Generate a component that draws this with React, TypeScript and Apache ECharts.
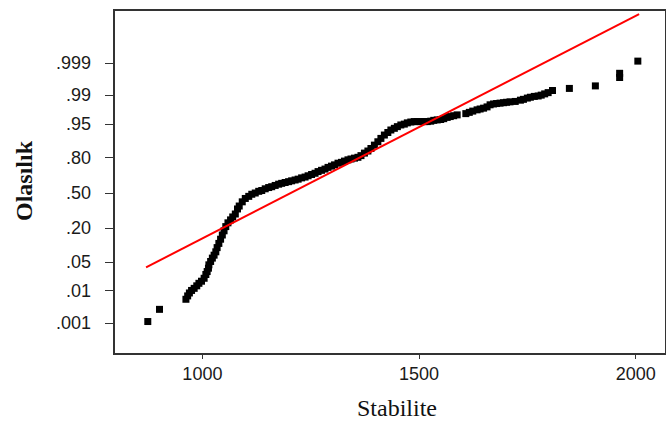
import React, { useEffect, useRef } from "react";
import * as echarts from "echarts";

// Stabilite values (x) and their normal scores (probability-scale position)
const stabilite = [
  874, 901, 962, 966, 970, 975, 981, 987, 992, 998, 1004, 1008, 1011, 1014, 1015, 1019, 1023, 1027, 1031, 1034,
  1038, 1042, 1046, 1050, 1054, 1059, 1065, 1070, 1076, 1081, 1085, 1092, 1099, 1107, 1114, 1122, 1130, 1137, 1145, 1153,
  1160, 1168, 1176, 1183, 1191, 1199, 1206, 1214, 1221, 1229, 1237, 1244, 1252, 1260, 1267, 1275, 1283, 1290, 1298, 1305,
  1313, 1321, 1328, 1336, 1343, 1351, 1359, 1366, 1374, 1382, 1389, 1397, 1405, 1412, 1420, 1428, 1435, 1443, 1450, 1458,
  1466, 1473, 1481, 1489, 1496, 1504, 1512, 1519, 1527, 1534, 1542, 1550, 1557, 1565, 1572, 1580, 1588, 1608, 1616, 1624,
  1634, 1641, 1649, 1657, 1664, 1672, 1679, 1687, 1695, 1702, 1710, 1722, 1734, 1741, 1750, 1757, 1766, 1775, 1782, 1790,
  1798, 1808, 1847, 1907, 1963, 1963, 2005,
];
const normalScore = [
  -3.06, -2.77, -2.53, -2.45, -2.38, -2.32, -2.27, -2.21, -2.15, -2.1, -2.03, -1.94, -1.87, -1.79, -1.71, -1.63, -1.55, -1.48, -1.4, -1.3,
  -1.2, -1.1, -1.0, -0.9, -0.8, -0.71, -0.64, -0.57, -0.5, -0.38, -0.31, -0.21, -0.13, -0.08, -0.03, 0.0, 0.04, 0.06, 0.1, 0.13,
  0.15, 0.18, 0.21, 0.23, 0.25, 0.27, 0.29, 0.31, 0.33, 0.36, 0.38, 0.41, 0.44, 0.47, 0.51, 0.54, 0.57, 0.61, 0.64, 0.67,
  0.71, 0.73, 0.76, 0.79, 0.81, 0.83, 0.85, 0.89, 0.95, 1.0, 1.06, 1.14, 1.22, 1.3, 1.38, 1.44, 1.5, 1.54, 1.58, 1.62,
  1.64, 1.67, 1.69, 1.7, 1.7, 1.7, 1.7, 1.7, 1.71, 1.73, 1.74, 1.75, 1.77, 1.8, 1.82, 1.84, 1.86, 1.89, 1.92, 1.95,
  1.98, 2.0, 2.02, 2.05, 2.1, 2.12, 2.13, 2.14, 2.15, 2.16, 2.17, 2.18, 2.21, 2.23, 2.26, 2.28, 2.3, 2.31, 2.33, 2.36,
  2.39, 2.44, 2.49, 2.55, 2.75, 2.85, 3.14,
];

// Fitted normal reference line (endpoints)
const fitX = [870, 2008];
const fitScore = [-1.77, 4.26];

// Axis ticks
const probTicks = [0.001, 0.01, 0.05, 0.2, 0.5, 0.8, 0.95, 0.99, 0.999];
const probLabels = [".001", ".01", ".05", ".20", ".50", ".80", ".95", ".99", ".999"];
const xTicks = [1000, 1500, 2000];

const xTitle = "Stabilite";
const yTitle = "Olasılık";

// inverse standard normal CDF (probability-scale transform)
function probit(p: number): number {
  const a = [-3.969683028665376e1, 2.209460984245205e2, -2.759285104469687e2, 1.38357751867269e2, -3.066479806614716e1, 2.506628277459239];
  const b = [-5.447609879822406e1, 1.615858368580409e2, -1.556989798598866e2, 6.680131188771972e1, -1.328068155288572e1];
  const c = [-7.784894002430293e-3, -3.223964580411365e-1, -2.400758277161838, -2.549732539343734, 4.374664141464968, 2.938163982698783];
  const d = [7.784695709041462e-3, 3.224671290700398e-1, 2.445134137142996, 3.754408661907416];
  const pl = 0.02425;
  if (p < pl) {
    const q = Math.sqrt(-2 * Math.log(p));
    return (((((c[0] * q + c[1]) * q + c[2]) * q + c[3]) * q + c[4]) * q + c[5]) / ((((d[0] * q + d[1]) * q + d[2]) * q + d[3]) * q + 1);
  }
  if (p <= 1 - pl) {
    const q = p - 0.5;
    const r = q * q;
    return ((((((a[0] * r + a[1]) * r + a[2]) * r + a[3]) * r + a[4]) * r + a[5]) * q) / (((((b[0] * r + b[1]) * r + b[2]) * r + b[3]) * r + b[4]) * r + 1);
  }
  const q = Math.sqrt(-2 * Math.log(1 - p));
  return -(((((c[0] * q + c[1]) * q + c[2]) * q + c[3]) * q + c[4]) * q + c[5]) / ((((d[0] * q + d[1]) * q + d[2]) * q + d[3]) * q + 1);
}

export default function App() {
  const ref = useRef<HTMLDivElement>(null);
  useEffect(() => {
    document.body.style.margin = "0";
    document.body.style.overflow = "hidden";
    if (!ref.current) return;
    const chart = echarts.init(ref.current, undefined, { renderer: "svg" });
    const tickZ = probTicks.map(probit);
    const axisColor = "#333";
    chart.setOption({
      animation: false,
      backgroundColor: "#fff",
      grid: {
        left: 114,
        top: 10,
        width: 556,
        height: 344,
        show: true,
        borderColor: axisColor,
        borderWidth: 2,
        backgroundColor: "transparent",
      },
      xAxis: {
        type: "value",
        min: 796,
        max: 2070,
        axisLine: { show: true, onZero: false, lineStyle: { color: axisColor, width: 2 } },
        axisTick: { show: true, length: 5, customValues: xTicks, lineStyle: { color: axisColor } },
        axisLabel: {
          customValues: xTicks,
          margin: 11,
          fontFamily: "Liberation Sans",
          fontSize: 18,
          color: "#1a1a1a",
          formatter: (v: number) => String(v),
        },
        splitLine: { show: false },
      },
      yAxis: {
        type: "value",
        min: -3.833,
        max: 4.357,
        axisLine: { show: true, onZero: false, lineStyle: { color: axisColor, width: 2 } },
        axisTick: { show: true, length: 9, customValues: tickZ, lineStyle: { color: axisColor } },
        axisLabel: {
          customValues: tickZ,
          margin: 23,
          fontFamily: "Liberation Sans",
          fontSize: 18,
          color: "#1a1a1a",
          formatter: (v: number) => {
            let best = 0;
            for (let i = 1; i < tickZ.length; i++) {
              if (Math.abs(tickZ[i] - v) < Math.abs(tickZ[best] - v)) best = i;
            }
            return probLabels[best];
          },
        },
        splitLine: { show: false },
      },
      series: [
        {
          type: "scatter",
          symbol: "rect",
          symbolSize: 7,
          itemStyle: { color: "#000", opacity: 1 },
          data: stabilite.map((x, i) => [x, normalScore[i]]),
          z: 2,
        },
        {
          type: "line",
          showSymbol: false,
          lineStyle: { color: "#ff0000", width: 2 },
          data: fitX.map((x, i) => [x, fitScore[i]]),
          z: 3,
        },
      ],
      graphic: [
        {
          type: "text",
          x: 397,
          y: 408,
          style: {
            text: xTitle,
            font: "24px 'Liberation Serif'",
            fill: "#111",
            align: "center",
            verticalAlign: "middle",
          },
        },
        {
          type: "text",
          x: 24,
          y: 181,
          rotation: Math.PI / 2,
          style: {
            text: yTitle,
            font: "bold 24px 'Liberation Serif'",
            fill: "#111",
            align: "center",
            verticalAlign: "middle",
          },
        },
      ],
    });
    return () => chart.dispose();
  }, []);
  return <div ref={ref} style={{ width: 666, height: 422 }} />;
}
